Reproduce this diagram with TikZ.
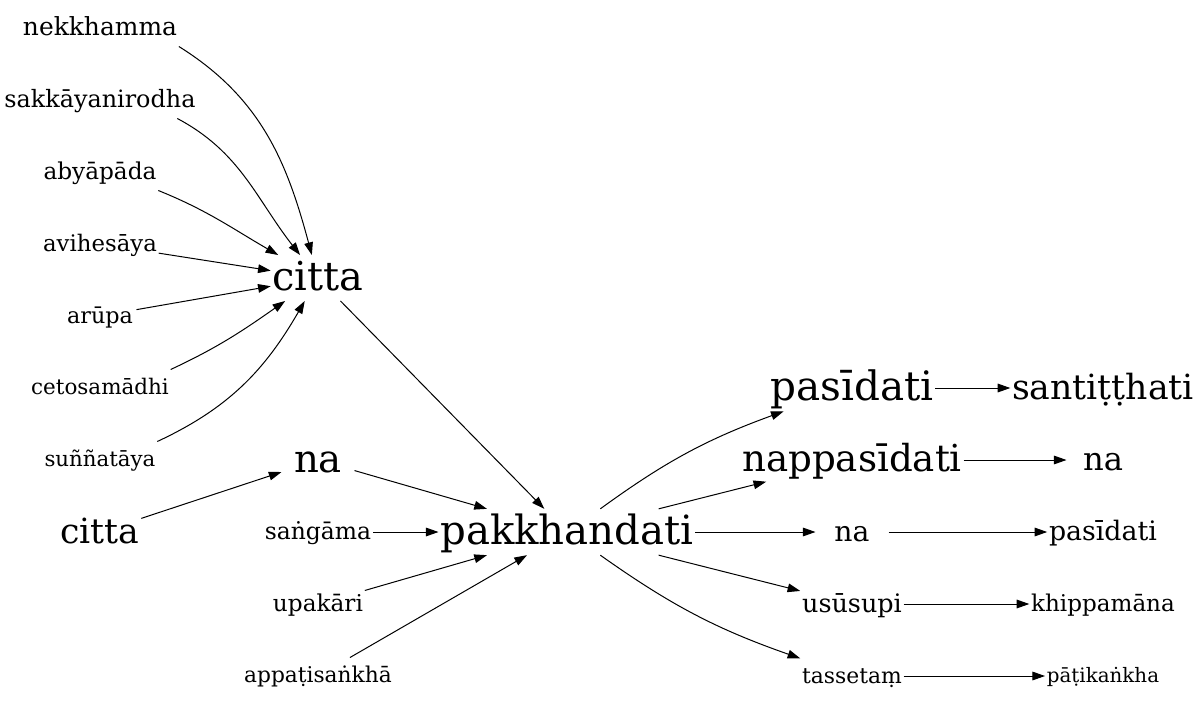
\documentclass[tikz,border=0pt]{standalone}
\usepackage{fontspec}
\setmainfont{DejaVu Serif}
\usetikzlibrary{arrows.meta}
\tikzset{
  word/.style={inner xsep=1pt, inner ysep=2.5pt, minimum width=54pt, minimum height=27pt},
  fs/.style={font=\fontsize{#1pt}{#1pt}\selectfont, text height=0.8*#1pt, text depth=0.16*#1pt},
}
\begin{document}
\begin{tikzpicture}[x=0.75pt, y=0.75pt, >={Triangle[length=9.5pt,width=6.5pt]}, line width=0.75pt]
  \useasboundingbox (0,0) rectangle (1200,-707);
  % 左の列（citta へ）
  \node[word, fs=18.7] (nek)  at (100,-28)  {nekkhamma};
  \node[word, fs=17.9] (sak)  at (100,-100) {sakkāyanirodha};
  \node[word, fs=17.4] (aby)  at (100,-172) {abyāpāda};
  \node[word, fs=17.1] (avi)  at (100,-244) {avihesāya};
  \node[word, fs=16.7] (aru)  at (100,-316) {arūpa};
  \node[word, fs=16.1] (ceto) at (100,-388) {cetosamādhi};
  \node[word, fs=16.0] (sun)  at (100,-460) {suññatāya};
  \node[word, fs=26.0] (cittb) at (100,-532) {citta};
  % 中央
  \node[word, fs=29.9] (citta) at (318,-278) {citta};
  \node[word, fs=29.0] (naa)  at (318,-460) {na};
  \node[word, fs=17.6] (sang) at (318,-532) {saṅgāma};
  \node[word, fs=17.4] (upa)  at (318,-604) {upakāri};
  \node[word, fs=16.3] (appa) at (318,-676) {appaṭisaṅkhā};
  \node[word, fs=30.2] (pak)  at (567,-532) {pakkhandati};
  % 右の列
  \node[word, fs=30.4] (pas)  at (852,-388) {pasīdati};
  \node[word, fs=27.9] (nap)  at (852,-460) {nappasīdati};
  \node[word, fs=21.2] (nab)  at (852,-532) {na};
  \node[word, fs=19.1] (usu)  at (852,-604) {usūsupi};
  \node[word, fs=16.4] (tas)  at (852,-676) {tassetaṃ};
  \node[word, fs=26.0] (san)  at (1103,-388) {santiṭṭhati};
  \node[word, fs=24.2] (nac)  at (1103,-460) {na};
  \node[word, fs=20.1] (pasb) at (1103,-532) {pasīdati};
  \node[word, fs=17.3] (khi)  at (1103,-604) {khippamāna};
  \node[word, fs=14.9] (pat)  at (1103,-676) {pāṭikaṅkha};
  % citta への矢印
  \draw[->] (nek.south east) to[out=-32, in=105] (citta);
  \draw[->] ([xshift=-15pt]sak.south east) to[out=-28, in=128] (citta);
  \draw[->] (aby.south east) to[out=-22, in=150] (citta);
  \draw[->] (avi) -- (citta);
  \draw[->] (aru) -- (citta);
  \draw[->] (ceto.north east) to[out=25, in=-145] (citta);
  \draw[->] (sun.north east) to[out=25, in=-120] (citta);
  % pakkhandati への矢印
  \draw[->] (citta) -- (pak);
  \draw[->] (cittb) -- (naa);
  \draw[->] (naa) -- (pak);
  \draw[->] (sang) -- (pak);
  \draw[->] (upa) -- (pak);
  \draw[->] (appa) -- (pak);
  % pakkhandati から
  \draw[->] (pak) to[bend left=8] (pas);
  \draw[->] (pak) -- (nap);
  \draw[->] (pak) -- (nab);
  \draw[->] (pak) -- (usu);
  \draw[->] (pak) to[bend right=8] (tas);
  \draw[->] (pas) -- (san);
  \draw[->] (nap) -- (nac);
  \draw[->] (nab) -- (pasb);
  \draw[->] (usu) -- (khi);
  \draw[->] (tas) -- (pat);
\end{tikzpicture}
\end{document}
